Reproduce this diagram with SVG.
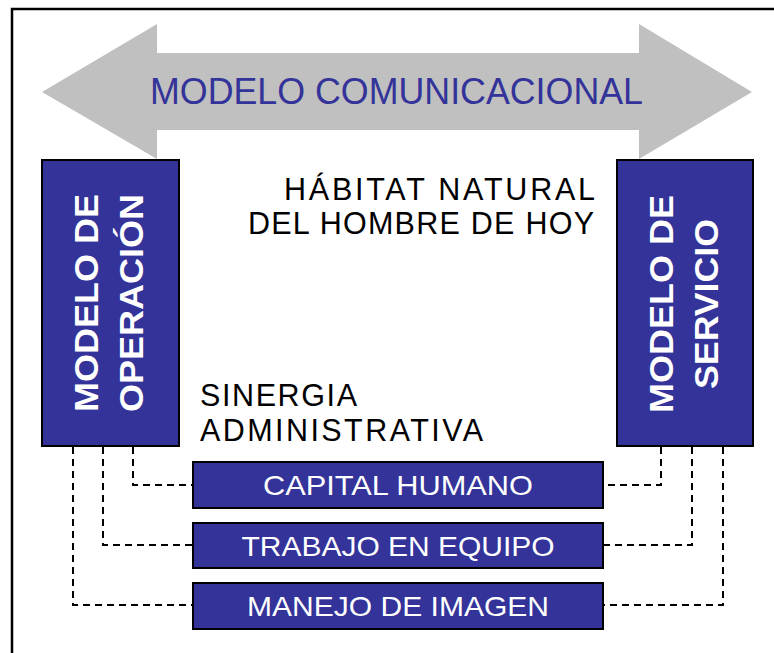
<svg xmlns="http://www.w3.org/2000/svg" width="774" height="653" viewBox="0 0 774 653">
<style>
.box{fill:#333399;stroke:#000;stroke-width:2}
.vt{font-family:"Liberation Sans",Arial,sans-serif;font-weight:bold;font-size:34px;fill:#fff;text-anchor:middle}
.bt{font-family:"Liberation Sans",Arial,sans-serif;font-size:28px;fill:#fff;text-anchor:middle}
.lbl{font-family:"Liberation Sans",Arial,sans-serif;fill:#000}
.dash{fill:none;stroke:#000;stroke-width:2;stroke-dasharray:7 5}
</style>
<rect width="774" height="653" fill="#fff"/>
<path d="M12,660 V9 H780" fill="none" stroke="#000" stroke-width="2.5"/>
<g id="arrow">
<polygon points="42,92 157,24 157,53 639,53 639,24 752,92 639,159 639,130 157,130 157,159" fill="#c0c0c0"/>
<text x="396.5" y="104" font-family="'Liberation Sans',Arial,sans-serif" font-size="36" fill="#333399" text-anchor="middle" textLength="493" lengthAdjust="spacingAndGlyphs">MODELO COMUNICACIONAL</text>
</g>
<g id="habitat">
<text class="lbl" x="284" y="200" font-size="30.5" textLength="311" lengthAdjust="spacing">HÁBITAT NATURAL</text>
<text class="lbl" x="248" y="234" font-size="30.5" textLength="346" lengthAdjust="spacing">DEL HOMBRE DE HOY</text>
</g>
<g id="sinergia">
<text class="lbl" x="200" y="406" font-size="30.5" textLength="157" lengthAdjust="spacing">SINERGIA</text>
<text class="lbl" x="200" y="441" font-size="30.5" textLength="283" lengthAdjust="spacing">ADMINISTRATIVA</text>
</g>
<g id="connectors">
<polyline class="dash" points="133,447 133,485 193,485"/>
<polyline class="dash" points="103,447 103,545 193,545"/>
<polyline class="dash" points="73,447 73,605 193,605"/>
<polyline class="dash" points="661,447 661,485 603,485"/>
<polyline class="dash" points="692,447 692,545 603,545"/>
<polyline class="dash" points="723,447 723,605 603,605"/>
</g>
<g id="modelo-operacion">
<rect class="box" x="42" y="160" width="137" height="286"/>
<g transform="translate(0,303) rotate(-90)">
<text class="vt" x="0" y="98" textLength="218" lengthAdjust="spacingAndGlyphs">MODELO DE</text>
<text class="vt" x="0" y="143" textLength="218" lengthAdjust="spacingAndGlyphs">OPERACIÓN</text>
</g>
</g>
<g id="modelo-servicio">
<rect class="box" x="617" y="160" width="136" height="286"/>
<g transform="translate(0,304) rotate(-90)">
<text class="vt" x="0" y="673" textLength="218" lengthAdjust="spacingAndGlyphs">MODELO DE</text>
<text class="vt" x="0" y="718" textLength="170" lengthAdjust="spacingAndGlyphs">SERVICIO</text>
</g>
</g>
<g id="capital-humano">
<rect class="box" x="193" y="462" width="410" height="46"/>
<text class="bt" x="398" y="495" textLength="270" lengthAdjust="spacingAndGlyphs">CAPITAL HUMANO</text>
</g>
<g id="trabajo-en-equipo">
<rect class="box" x="193" y="523" width="410" height="45"/>
<text class="bt" x="398" y="556" textLength="313" lengthAdjust="spacingAndGlyphs">TRABAJO EN EQUIPO</text>
</g>
<g id="manejo-de-imagen">
<rect class="box" x="193" y="583" width="410" height="46"/>
<text class="bt" x="398" y="616" textLength="302" lengthAdjust="spacingAndGlyphs">MANEJO DE IMAGEN</text>
</g>
</svg>
